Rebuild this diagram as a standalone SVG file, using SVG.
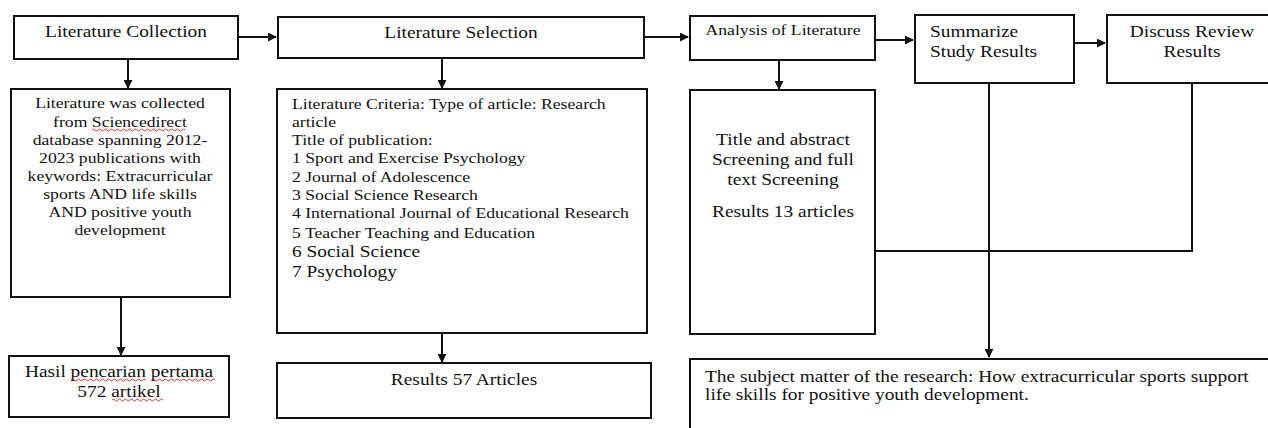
<svg xmlns="http://www.w3.org/2000/svg" width="1268" height="428" viewBox="0 0 1268 428" font-family="'Liberation Serif','Times New Roman',serif">
<style>
.box{fill:#fff;stroke:#111;stroke-width:2}
.ln{fill:none;stroke:#111;stroke-width:2}
text{font-family:"Liberation Serif","Times New Roman",serif;fill:#111;font-size:15.5px}
.c{text-anchor:middle}
.t17{font-size:17px}
.sq{fill:none;stroke:#e02020;stroke-width:0.9}
</style>
<defs>
<marker id="ah" viewBox="0 0 10 10" refX="9" refY="5" markerWidth="9" markerHeight="9" markerUnits="userSpaceOnUse" orient="auto">
<path d="M0,0 L10,5 L0,10 z" fill="#111"/>
</marker>
</defs>
<g id="connectors">
<line class="ln" x1="238" y1="37" x2="276" y2="37" marker-end="url(#ah)"/>
<line class="ln" x1="644" y1="37" x2="688" y2="37" marker-end="url(#ah)"/>
<line class="ln" x1="875" y1="40" x2="913" y2="40" marker-end="url(#ah)"/>
<line class="ln" x1="1074" y1="43" x2="1105" y2="43" marker-end="url(#ah)"/>
<line class="ln" x1="128" y1="59" x2="128" y2="88" marker-end="url(#ah)"/>
<line class="ln" x1="442" y1="58" x2="442" y2="88" marker-end="url(#ah)"/>
<line class="ln" x1="779" y1="60" x2="779" y2="89" marker-end="url(#ah)"/>
<line class="ln" x1="121" y1="297" x2="121" y2="355" marker-end="url(#ah)"/>
<line class="ln" x1="442" y1="333" x2="442" y2="362" marker-end="url(#ah)"/>
<line class="ln" x1="989" y1="83" x2="989" y2="357" marker-end="url(#ah)"/>
<polyline class="ln" points="1192,83 1192,251 875,251"/>
</g>
<g id="lit-collection">
<rect class="box" x="14" y="16" width="224" height="43"/>
<text class="c t17" transform="translate(126,37) scale(1.14,1)">Literature Collection</text>
</g>
<g id="lit-selection">
<rect class="box" x="278" y="17" width="366" height="41"/>
<text class="c t17" transform="translate(461,38) scale(1.14,1)">Literature Selection</text>
</g>
<g id="analysis">
<rect class="box" x="690" y="16" width="185" height="44"/>
<text class="c" transform="translate(783,35) scale(1.14,1)">Analysis of Literature</text>
</g>
<g id="summarize">
<rect class="box" x="915" y="15" width="159" height="68"/>
<text class="t17" transform="translate(930,37) scale(1.14,1)">Summarize</text>
<text class="t17" transform="translate(930,57) scale(1.14,1)">Study Results</text>
</g>
<g id="discuss">
<rect class="box" x="1107" y="15" width="170" height="68"/>
<text class="c t17" transform="translate(1192,37) scale(1.14,1)">Discuss Review</text>
<text class="c t17" transform="translate(1192,57) scale(1.14,1)">Results</text>
</g>
<g id="collected">
<rect class="box" x="11" y="89" width="219" height="208"/>
<text class="c" transform="translate(120,108) scale(1.14,1)">Literature was collected</text>
<text class="c" transform="translate(120,127) scale(1.14,1)">from Sciencedirect</text>
<text class="c" transform="translate(120,145) scale(1.14,1)">database spanning 2012-</text>
<text class="c" transform="translate(120,163) scale(1.14,1)">2023 publications with</text>
<text class="c" transform="translate(120,181) scale(1.14,1)">keywords: Extracurricular</text>
<text class="c" transform="translate(120,199) scale(1.14,1)">sports AND life skills</text>
<text class="c" transform="translate(120,217) scale(1.14,1)">AND positive youth</text>
<text class="c" transform="translate(120,235) scale(1.14,1)">development</text>
<path class="sq" d="M92,130 q1.5,-2 3,0 t3,0 t3,0 t3,0 t3,0 t3,0 t3,0 t3,0 t3,0 t3,0 t3,0 t3,0 t3,0 t3,0 t3,0 t3,0 t3,0 t3,0 t3,0 t3,0 t3,0 t3,0 t3,0 t3,0 t3,0 t3,0 t3,0 t3,0 t3,0 t3,0 t3,0"/>
</g>
<g id="criteria">
<rect class="box" x="277" y="89" width="370" height="244"/>
<text transform="translate(292,109) scale(1.14,1)">Literature Criteria: Type of article: Research</text>
<text transform="translate(292,127) scale(1.14,1)">article</text>
<text transform="translate(292,145) scale(1.14,1)">Title of publication:</text>
<text transform="translate(292,163) scale(1.14,1)">1 Sport and Exercise Psychology</text>
<text transform="translate(292,182) scale(1.14,1)">2 Journal of Adolescence</text>
<text transform="translate(292,200) scale(1.14,1)">3 Social Science Research</text>
<text transform="translate(292,218) scale(1.14,1)">4 International Journal of Educational Research</text>
<text transform="translate(292,238) scale(1.14,1)">5 Teacher Teaching and Education</text>
<text class="t17" transform="translate(292,257) scale(1.14,1)">6 Social Science</text>
<text class="t17" transform="translate(292,277) scale(1.14,1)">7 Psychology</text>
</g>
<g id="screening">
<rect class="box" x="690" y="90" width="185" height="244"/>
<text class="c t17" transform="translate(783,145) scale(1.14,1)">Title and abstract</text>
<text class="c t17" transform="translate(783,165) scale(1.14,1)">Screening and full</text>
<text class="c t17" transform="translate(783,185) scale(1.14,1)">text Screening</text>
<text class="c t17" transform="translate(783,217) scale(1.14,1)">Results 13 articles</text>
</g>
<g id="hasil">
<rect class="box" x="9" y="356" width="220" height="61"/>
<text class="c t17" transform="translate(119,377) scale(1.14,1)">Hasil pencarian pertama</text>
<text class="c t17" transform="translate(119,397) scale(1.14,1)">572 artikel</text>
<path class="sq" d="M71,380 q1.5,-2 3,0 t3,0 t3,0 t3,0 t3,0 t3,0 t3,0 t3,0 t3,0 t3,0 t3,0 t3,0 t3,0 t3,0 t3,0 t3,0 t3,0 t3,0 t3,0 t3,0 t3,0 t3,0 t3,0 t3,0 t3,0"/>
<path class="sq" d="M152,380 q1.5,-2 3,0 t3,0 t3,0 t3,0 t3,0 t3,0 t3,0 t3,0 t3,0 t3,0 t3,0 t3,0 t3,0 t3,0 t3,0 t3,0 t3,0 t3,0 t3,0 t3,0 t3,0"/>
<path class="sq" d="M112,400 q1.5,-2 3,0 t3,0 t3,0 t3,0 t3,0 t3,0 t3,0 t3,0 t3,0 t3,0 t3,0 t3,0 t3,0 t3,0 t3,0 t3,0 t3,0"/>
</g>
<g id="results57">
<rect class="box" x="277" y="363" width="374" height="55"/>
<text class="c t17" transform="translate(464,385) scale(1.14,1)">Results 57 Articles</text>
</g>
<g id="subject">
<rect class="box" x="690" y="359" width="590" height="80"/>
<text class="t17" transform="translate(705,382) scale(1.14,1)">The subject matter of the research: How extracurricular sports support</text>
<text class="t17" transform="translate(705,400) scale(1.14,1)">life skills for positive youth development.</text>
</g>
</svg>
